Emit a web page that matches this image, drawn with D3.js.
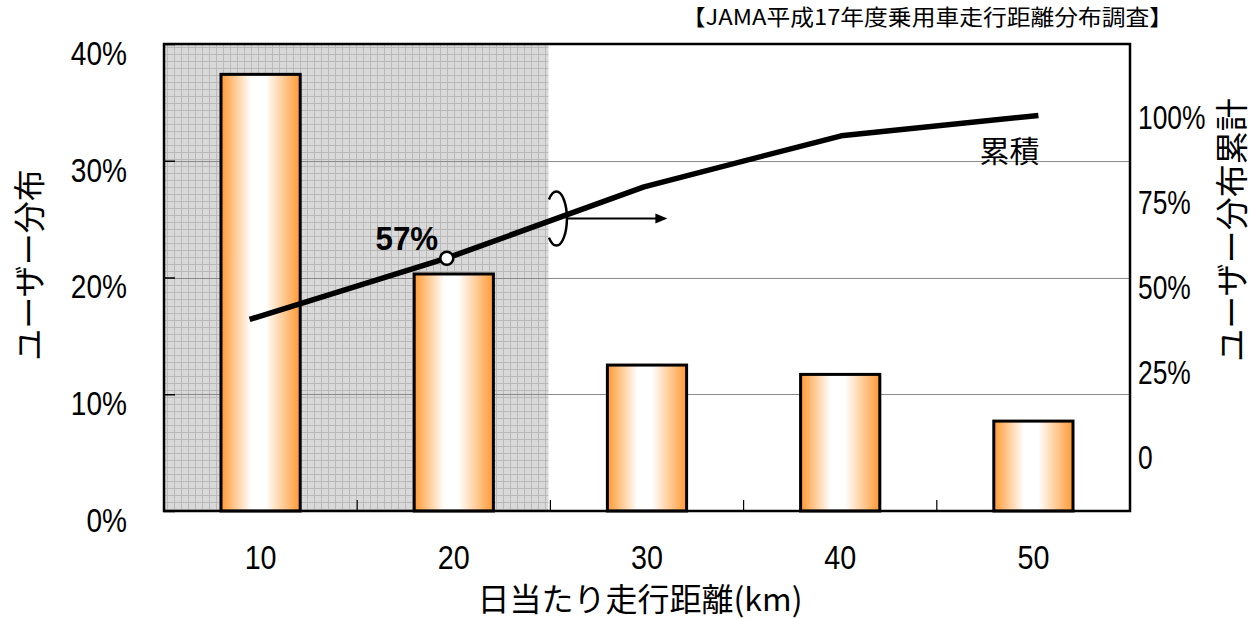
<!DOCTYPE html>
<html>
<head>
<meta charset="utf-8">
<script src="https://cdn.jsdelivr.net/npm/d3@7"></script>
<style>
  html, body { margin: 0; padding: 0; background: #fff; }
  svg { display: block; }
  .num { font-family: "Liberation Sans", Arial, sans-serif; }
  .jp { font-family: "Noto Sans CJK JP", sans-serif; }
</style>
</head>
<body>
<svg id="chart" width="1258" height="619"></svg>
<script>
// Distance bands (km per day)
const categories = [10, 20, 30, 40, 50];
// Share of users in each band (%)
const userShare = [37.4, 20.3, 12.5, 11.7, 7.7];
// Cumulative share of users (%), right axis
const cumulative = [39, 57, 78, 93, 99];
// Axis ticks
const leftTicks = [0, 10, 20, 30, 40];
const rightTicks = [0, 25, 50, 75, 100];
// Texts
const titleText = "【JAMA平成17年度乗用車走行距離分布調査】";
const xTitle = "日当たり走行距離(km)";
const yLeftTitle = "ユーザー分布";
const yRightTitle = "ユーザー分布累計";
const lineLabel = "累積";
const highlightCat = 20;

const W = 1258, H = 619;
const plot = { left: 164, right: 1130, top: 44, bottom: 511 };

const svg = d3.select("#chart");
const defs = svg.append("defs");

// squeeze a text run horizontally (narrow numeric face)
function condense(sel, k) {
  sel.each(function () {
    const w = this.getComputedTextLength();
    d3.select(this).attr("textLength", w * k).attr("lengthAdjust", "spacingAndGlyphs");
  });
}

// Scales
const x = d3.scaleBand().domain(categories)
  .range([plot.left, plot.right]).paddingInner(0.59).paddingOuter(0.295);
const yL = d3.scaleLinear().domain([0, 40]).range([plot.bottom, plot.top]);
const yR = d3.scaleLinear().domain([0, 100]).range([452, 112]);
const bw = x.bandwidth();
const center = c => x(c) + bw / 2;
const xLine = d3.scalePoint().domain(categories)
  .range([center(categories[0]) - 11, center(categories[categories.length - 1]) + 5]);

// Gradient for the bars: orange edges, white core
const grad = defs.append("linearGradient").attr("id", "barGrad")
  .attr("x1", "0%").attr("x2", "100%").attr("y1", "0%").attr("y2", "0%");
[[0, "#ff9933"], [0.38, "#ffffff"], [0.56, "#ffffff"], [1, "#ff9933"]]
  .forEach(([o, c]) => grad.append("stop").attr("offset", o).attr("stop-color", c));

// Fine grid pattern for the short-distance zone
const pat = defs.append("pattern").attr("id", "fineGrid")
  .attr("patternUnits", "userSpaceOnUse").attr("width", 7).attr("height", 7)
  .attr("x", plot.left + 3).attr("y", plot.top + 3);
pat.append("rect").attr("width", 7).attr("height", 7).attr("fill", "#d9d9d9");
pat.append("path").attr("d", "M0.5,0V7M0,0.5H7")
  .attr("stroke", "#b9b9b9").attr("stroke-width", 1).attr("fill", "none");

// Shaded zone covers the first two bands
const shadeRight = x(categories[2]) - x.step() * x.paddingInner() / 2;
svg.append("rect")
  .attr("x", plot.left).attr("y", plot.top)
  .attr("width", shadeRight - plot.left - 2).attr("height", plot.bottom - plot.top)
  .attr("fill", "url(#fineGrid)");

// Horizontal gridlines
svg.append("g").selectAll("line").data(leftTicks.filter(d => d > 0 && d < 40)).join("line")
  .attr("x1", plot.left).attr("x2", plot.right)
  .attr("y1", d => Math.round(yL(d)) + 0.5).attr("y2", d => Math.round(yL(d)) + 0.5)
  .attr("stroke", "#8a8a8a").attr("stroke-width", 1);

// Left axis
const gL = svg.append("g").attr("transform", `translate(${plot.left},0)`)
  .call(d3.axisLeft(yL).tickValues(leftTicks).tickFormat(d => d + "%")
    .tickSizeInner(-11).tickSizeOuter(0).tickPadding(37));
gL.select(".domain").remove();
gL.selectAll(".tick line").attr("stroke", "#000").attr("stroke-width", 1.5);
gL.selectAll(".tick text").attr("class", "num").attr("font-size", 33)
  .attr("fill", "#000").attr("dy", "0.62em").call(condense, 0.85);

// Bottom axis labels
const gB = svg.append("g").attr("transform", `translate(0,${plot.bottom})`)
  .call(d3.axisBottom(x).tickSize(0).tickPadding(35));
gB.select(".domain").remove();
gB.selectAll(".tick text").attr("class", "num").attr("font-size", 33)
  .attr("fill", "#000").call(condense, 0.87);

// Small upward ticks between bands
const bounds = categories.slice(1).map(c => x(c) - x.step() * x.paddingInner() / 2);
svg.append("g").selectAll("line").data(bounds).join("line")
  .attr("x1", d => d).attr("x2", d => d)
  .attr("y1", plot.bottom).attr("y2", plot.bottom - 11)
  .attr("stroke", "#000").attr("stroke-width", 1.2);

// Bars
svg.append("g").selectAll("rect").data(categories).join("rect")
  .attr("x", d => x(d)).attr("width", bw)
  .attr("y", (d, i) => yL(userShare[i]))
  .attr("height", (d, i) => yL(0) - yL(userShare[i]))
  .attr("fill", "url(#barGrad)").attr("stroke", "#000").attr("stroke-width", 3);

// Plot frame
svg.append("rect")
  .attr("x", plot.left).attr("y", plot.top)
  .attr("width", plot.right - plot.left).attr("height", plot.bottom - plot.top)
  .attr("fill", "none").attr("stroke", "#000").attr("stroke-width", 2.5);

// Right axis labels
const gR = svg.append("g").attr("transform", `translate(${plot.right},0)`)
  .call(d3.axisRight(yR).tickValues(rightTicks).tickFormat(d => d === 0 ? "0" : d + "%")
    .tickSize(0).tickPadding(8));
gR.select(".domain").remove();
gR.selectAll(".tick text").attr("class", "num").attr("font-size", 33)
  .attr("fill", "#000").attr("dy", "0.5em").call(condense, 0.8);

// Cumulative line
const lineData = categories.map((c, i) => ({ c, v: cumulative[i] }));
svg.append("path").datum(lineData)
  .attr("d", d3.line().x(d => xLine(d.c)).y(d => yR(d.v)))
  .attr("fill", "none").attr("stroke", "#000").attr("stroke-width", 5.5)
  .attr("stroke-linejoin", "round");

// Highlight point with its value
const hi = lineData.find(d => d.c === highlightCat);
svg.append("circle").attr("cx", xLine(hi.c)).attr("cy", yR(hi.v)).attr("r", 6.5)
  .attr("fill", "#fff").attr("stroke", "#000").attr("stroke-width", 2.5);
svg.append("text").attr("class", "num")
  .attr("x", xLine(hi.c) - 40).attr("y", yR(hi.v) - 8)
  .attr("text-anchor", "middle").attr("font-size", 34).attr("font-weight", "bold")
  .text(hi.v + "%").call(condense, 0.92);

// Ring around the line at the edge of the shaded zone, arrow to the right axis
const i2 = categories.indexOf(20), i3 = categories.indexOf(30);
const t = (shadeRight + 6 - xLine(categories[i2])) / (xLine(categories[i3]) - xLine(categories[i2]));
const cx = shadeRight + 6;
const cy = yR(cumulative[i2] + t * (cumulative[i3] - cumulative[i2]));
const rx = 10.5, ry = 27, a0 = 135 * Math.PI / 180;
svg.append("path")
  .attr("d", `M${cx + rx * Math.cos(-a0)},${cy + ry * Math.sin(-a0)} A${rx},${ry} 0 1 1 ${cx + rx * Math.cos(a0)},${cy + ry * Math.sin(a0)}`)
  .attr("fill", "none").attr("stroke", "#000").attr("stroke-width", 2.5);
const tipX = cx + 111;
svg.append("line").attr("x1", cx + rx).attr("x2", tipX - 10).attr("y1", cy).attr("y2", cy)
  .attr("stroke", "#000").attr("stroke-width", 2);
svg.append("path")
  .attr("d", `M${tipX},${cy} L${tipX - 12},${cy - 5} L${tipX - 12},${cy + 5} Z`)
  .attr("fill", "#000");

// Series label
svg.append("text").attr("class", "jp")
  .attr("x", xLine(categories[categories.length - 1]) + 1).attr("y", 162)
  .attr("text-anchor", "end").attr("font-size", 30).attr("fill", "#000")
  .text(lineLabel);

// Titles
svg.append("text").attr("class", "jp").attr("x", 1173).attr("y", 25)
  .attr("text-anchor", "end").attr("font-size", 22).attr("fill", "#000")
  .text(titleText).call(condense, 1.08);

svg.append("text").attr("class", "jp")
  .attr("x", (plot.left + plot.right) / 2 - 7).attr("y", 611)
  .attr("text-anchor", "middle").attr("font-size", 32).attr("fill", "#000")
  .text(xTitle);

svg.append("text").attr("class", "jp")
  .attr("transform", `translate(41,265) rotate(-90)`)
  .attr("text-anchor", "middle").attr("font-size", 32).attr("fill", "#000")
  .text(yLeftTitle);

svg.append("text").attr("class", "jp")
  .attr("transform", `translate(1244,230) rotate(-90)`)
  .attr("text-anchor", "middle").attr("font-size", 33).attr("fill", "#000")
  .text(yRightTitle);
</script>
</body>
</html>
